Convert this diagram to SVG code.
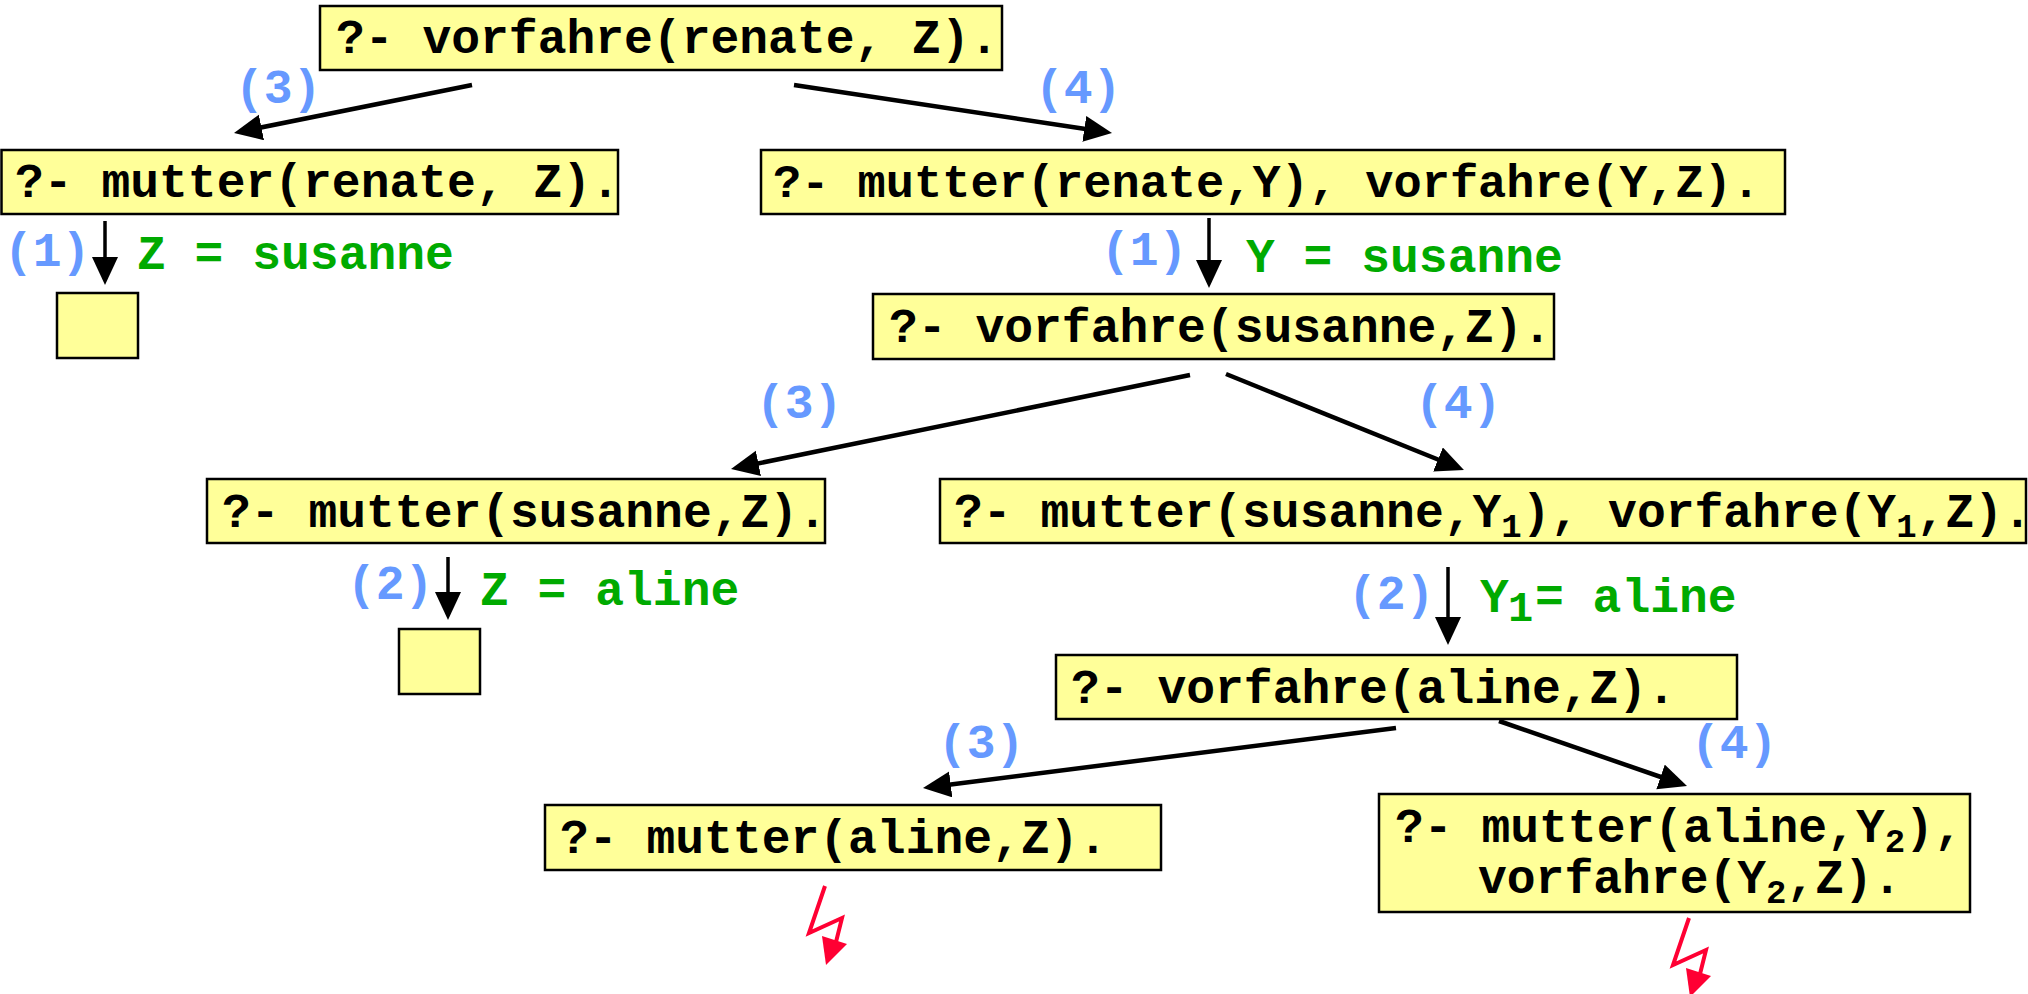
<svg xmlns="http://www.w3.org/2000/svg" width="2028" height="994" viewBox="0 0 2028 994">
<style>
.box{fill:#FFFF99;stroke:#000;stroke-width:2.5}
.t{font-family:"Liberation Mono","Courier New",monospace;font-weight:bold;font-size:48px;fill:#000}
.lbl{font-family:"Liberation Mono","Courier New",monospace;font-weight:bold;font-size:48px;fill:#6699FF}
.bind{font-family:"Liberation Mono","Courier New",monospace;font-weight:bold;font-size:48px;fill:#00AA00}
.sub{font-size:34px}
.edge{stroke:#000;stroke-width:4.5;fill:none}
.vedge{stroke:#000;stroke-width:3.5;fill:none}
.bolt{stroke:#FF0033;stroke-width:4;fill:none;stroke-linejoin:miter}
.bolthead{fill:#FF0033}
</style>
<defs>
<marker id="ah" markerUnits="userSpaceOnUse" markerWidth="30" markerHeight="28" refX="8" refY="13" orient="auto">
<path d="M0,0 L28,13 L0,26 z" fill="#000"/>
</marker>
</defs>
<rect width="2028" height="994" fill="#fff"/>
<g id="connectors">
<line class="edge" x1="472" y1="85" x2="253.6" y2="129" marker-end="url(#ah)"/>
<line class="edge" x1="794" y1="85" x2="1092.2" y2="130" marker-end="url(#ah)"/>
<line class="vedge" x1="105" y1="221" x2="105" y2="265" marker-end="url(#ah)"/>
<line class="vedge" x1="1209" y1="218" x2="1209" y2="268" marker-end="url(#ah)"/>
<line class="edge" x1="1190" y1="375" x2="750.6" y2="465" marker-end="url(#ah)"/>
<line class="edge" x1="1226" y1="374" x2="1445.4" y2="462.5" marker-end="url(#ah)"/>
<line class="vedge" x1="448" y1="557" x2="448" y2="600" marker-end="url(#ah)"/>
<line class="vedge" x1="1448" y1="567" x2="1448" y2="625" marker-end="url(#ah)"/>
<line class="edge" x1="1396" y1="728" x2="942.8" y2="785.5" marker-end="url(#ah)"/>
<line class="edge" x1="1499" y1="721" x2="1668.1" y2="779.5" marker-end="url(#ah)"/>
<text class="lbl" x="235" y="103">(3)</text>
<text class="lbl" x="1035" y="103">(4)</text>
<text class="lbl" x="4" y="266">(1)</text>
<text class="bind" x="137" y="269">Z = susanne</text>
<text class="lbl" x="1101" y="265">(1)</text>
<text class="bind" x="1246" y="272">Y = susanne</text>
<text class="lbl" x="756" y="418">(3)</text>
<text class="lbl" x="1415" y="418">(4)</text>
<text class="lbl" x="347" y="599">(2)</text>
<text class="bind" x="480" y="605">Z = aline</text>
<text class="lbl" x="1348" y="609">(2)</text>
<text class="bind" x="1480" y="612">Y</text>
<text class="bind" x="1508" y="621" style="font-size:42px">1</text>
<text class="bind" x="1535" y="612">= aline</text>
<text class="lbl" x="938" y="758">(3)</text>
<text class="lbl" x="1691" y="758">(4)</text>
</g>
<g id="n1"><rect class="box" x="320" y="6" width="682" height="64"/><text class="t" x="336" y="53">?- vorfahre(renate, Z).</text></g>
<g id="n2"><rect class="box" x="1.5" y="150" width="616.5" height="64"/><text class="t" x="15" y="197">?- mutter(renate, Z).</text></g>
<g id="n3"><rect class="box" x="761" y="150" width="1024" height="64"/><text class="t" x="773" y="197" style="font-size:47px">?- mutter(renate,Y), vorfahre(Y,Z).</text></g>
<g id="n4"><rect class="box" x="57" y="293" width="81" height="65"/></g>
<g id="n5"><rect class="box" x="873" y="294" width="681" height="65"/><text class="t" x="889" y="342">?- vorfahre(susanne,Z).</text></g>
<g id="n6"><rect class="box" x="207" y="479" width="618" height="64"/><text class="t" x="222" y="527">?- mutter(susanne,Z).</text></g>
<g id="n7"><rect class="box" x="940" y="479" width="1086" height="64"/><text class="t" x="954" y="527">?- mutter(susanne,Y<tspan class="sub" dy="10">1</tspan><tspan dy="-10">), vorfahre(Y</tspan><tspan class="sub" dy="10">1</tspan><tspan dy="-10">,Z).</tspan></text></g>
<g id="n8"><rect class="box" x="399" y="629" width="81" height="65"/></g>
<g id="n9"><rect class="box" x="1056" y="655" width="681" height="64"/><text class="t" x="1071" y="703">?- vorfahre(aline,Z).</text></g>
<g id="n10"><rect class="box" x="545" y="805" width="616" height="65"/><text class="t" x="560" y="853">?- mutter(aline,Z).</text></g>
<g id="n11"><rect class="box" x="1379" y="794" width="591" height="118"/><text class="t" x="1395" y="842">?- mutter(aline,Y<tspan class="sub" dy="10">2</tspan><tspan dy="-10">),</tspan><tspan x="1478" dy="51">vorfahre(Y</tspan><tspan class="sub" dy="10">2</tspan><tspan dy="-10">,Z).</tspan></text></g>
<g id="fail1"><polyline class="bolt" points="825,886 809,933 842,918 836,942"/><polygon class="bolthead" points="822,936 847,944 826,965"/></g>
<g id="fail2"><polyline class="bolt" points="1689,918 1673,965 1706,950 1700,974"/><polygon class="bolthead" points="1686,968 1711,976 1690,997"/></g>
</svg>
